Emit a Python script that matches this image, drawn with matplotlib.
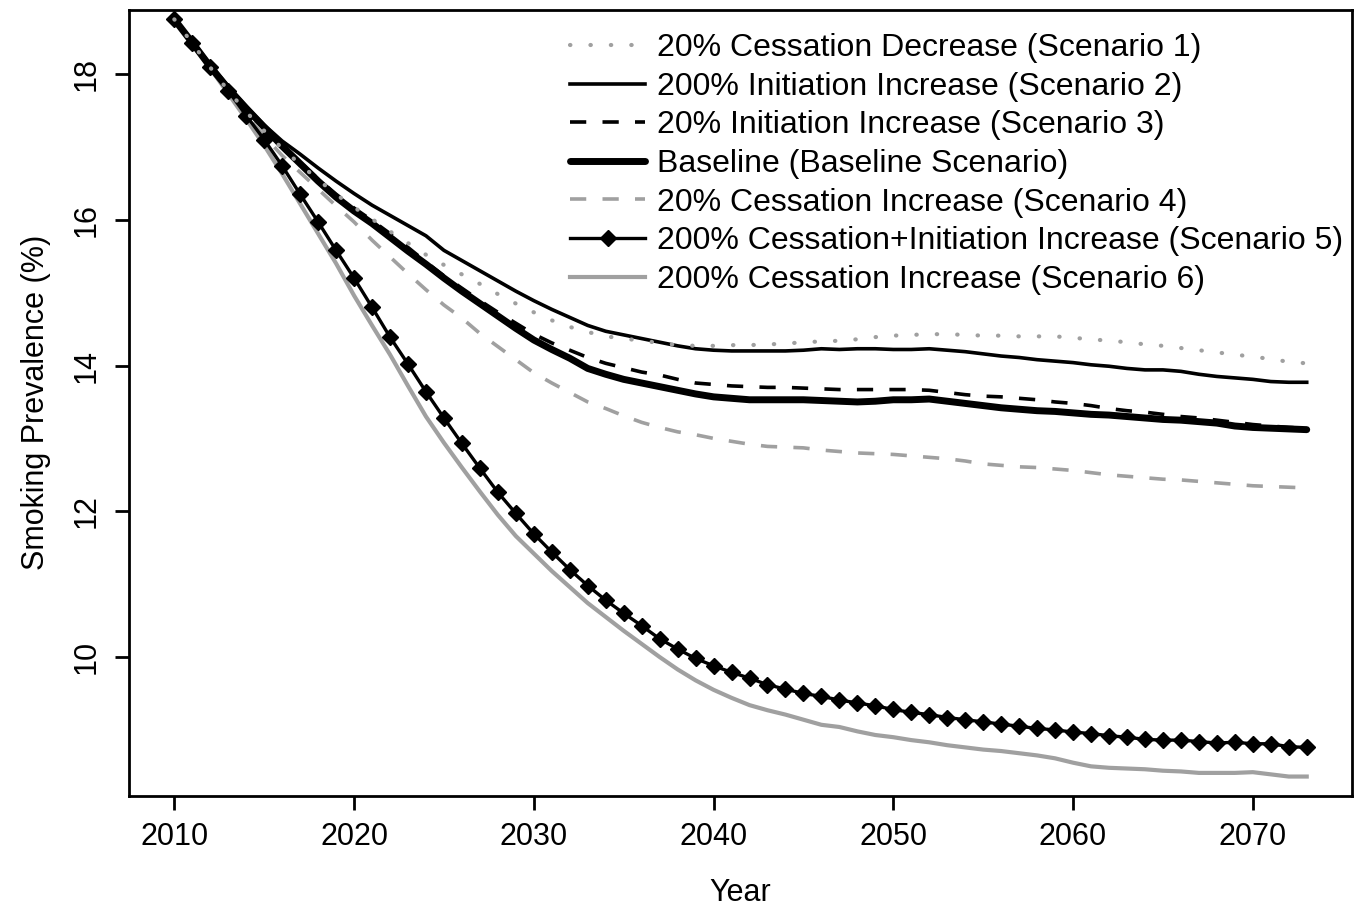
import numpy as np
import matplotlib
matplotlib.use("Agg")
import matplotlib.pyplot as plt

plt.rcParams['font.family'] = ['Liberation Sans', 'DejaVu Sans']

# years 2010..2073
years = list(range(2010, 2074))

# Scenario 1: 20% cessation decrease (gray dotted)
s1 = [18.75, 18.42, 18.09, 17.77, 17.48, 17.22, 16.98, 16.76, 16.55, 16.35,
      16.17, 16.01, 15.84, 15.68, 15.52, 15.38, 15.25, 15.12, 14.98, 14.85,
      14.73, 14.62, 14.53, 14.46, 14.40, 14.37, 14.34, 14.31, 14.28, 14.27,
      14.27, 14.28, 14.28, 14.29, 14.30, 14.32, 14.33, 14.34, 14.36, 14.39,
      14.41, 14.42, 14.43, 14.43, 14.42, 14.41, 14.41, 14.40, 14.40, 14.40,
      14.38, 14.36, 14.34, 14.32, 14.29, 14.27, 14.24, 14.21, 14.18, 14.15,
      14.12, 14.09, 14.05, 14.03]

# Scenario 2: 200% initiation increase (black thin)
s2 = [18.75, 18.45, 18.13, 17.83, 17.55, 17.30, 17.08, 16.90, 16.71, 16.53,
      16.36, 16.20, 16.06, 15.92, 15.78, 15.58, 15.44, 15.30, 15.16, 15.02,
      14.89, 14.77, 14.66, 14.55, 14.47, 14.42, 14.37, 14.32, 14.27, 14.23,
      14.21, 14.20, 14.20, 14.20, 14.20, 14.21, 14.23, 14.22, 14.23, 14.23,
      14.22, 14.22, 14.23, 14.21, 14.19, 14.16, 14.13, 14.11, 14.08, 14.06,
      14.04, 14.01, 13.99, 13.96, 13.94, 13.94, 13.92, 13.88, 13.85, 13.83,
      13.81, 13.78, 13.77, 13.77]

# Scenario 3: 20% initiation increase (black dashed)
s3 = [18.75, 18.43, 18.11, 17.81, 17.54, 17.28, 17.03, 16.79, 16.56, 16.35,
      16.16, 15.99, 15.81, 15.62, 15.42, 15.23, 15.06, 14.89, 14.73, 14.58,
      14.43, 14.31, 14.21, 14.11, 14.03, 13.97, 13.91, 13.87, 13.81, 13.76,
      13.74, 13.72, 13.71, 13.70, 13.70, 13.69, 13.68, 13.67, 13.67, 13.67,
      13.67, 13.67, 13.66, 13.63, 13.60, 13.58, 13.57, 13.55, 13.53, 13.50,
      13.48, 13.45, 13.41, 13.38, 13.36, 13.33, 13.30, 13.28, 13.25, 13.22,
      13.19, 13.17, 13.15, 13.14]

# Baseline (black thick)
base = [18.75, 18.43, 18.10, 17.80, 17.53, 17.27, 17.01, 16.77, 16.53, 16.31,
        16.12, 15.95, 15.76, 15.57, 15.39, 15.20, 15.02, 14.85, 14.68, 14.51,
        14.35, 14.22, 14.10, 13.96, 13.88, 13.81, 13.76, 13.71, 13.66, 13.61,
        13.57, 13.55, 13.53, 13.53, 13.53, 13.53, 13.52, 13.51, 13.50, 13.51,
        13.53, 13.53, 13.54, 13.51, 13.48, 13.45, 13.42, 13.40, 13.38, 13.37,
        13.35, 13.33, 13.32, 13.30, 13.28, 13.26, 13.25, 13.23, 13.21, 13.17,
        13.15, 13.14, 13.13, 13.12]

# Scenario 4: 20% cessation increase (gray dashed)
s4 = [18.75, 18.41, 18.07, 17.74, 17.43, 17.15, 16.88, 16.65, 16.42, 16.19,
      15.97, 15.72, 15.49, 15.26, 15.04, 14.83, 14.65, 14.44, 14.26, 14.08,
      13.90, 13.76, 13.63, 13.50, 13.41, 13.31, 13.22, 13.15, 13.09, 13.05,
      13.00, 12.96, 12.92, 12.89, 12.88, 12.87, 12.84, 12.82, 12.80, 12.79,
      12.78, 12.76, 12.74, 12.72, 12.69, 12.65, 12.63, 12.61, 12.60, 12.58,
      12.56, 12.53, 12.50, 12.48, 12.46, 12.44, 12.43, 12.41, 12.39, 12.37,
      12.35, 12.34, 12.33, 12.32]

# Scenario 5: 200% cessation+initiation increase (black with diamonds)
s5 = [18.75, 18.43, 18.10, 17.77, 17.43, 17.10, 16.74, 16.35, 15.97, 15.58,
      15.20, 14.80, 14.39, 14.02, 13.64, 13.28, 12.93, 12.59, 12.26, 11.97,
      11.69, 11.44, 11.20, 10.98, 10.78, 10.60, 10.43, 10.25, 10.11, 9.98,
      9.88, 9.79, 9.71, 9.62, 9.56, 9.50, 9.46, 9.41, 9.37, 9.33,
      9.28, 9.24, 9.21, 9.17, 9.14, 9.11, 9.08, 9.05, 9.02, 9.00,
      8.97, 8.95, 8.92, 8.90, 8.87, 8.86, 8.86, 8.84, 8.82, 8.83,
      8.81, 8.81, 8.77, 8.76]

# Scenario 6: 200% cessation increase (gray solid)
s6 = [18.75, 18.42, 18.08, 17.73, 17.38, 17.02, 16.63, 16.22, 15.81, 15.40,
      14.96, 14.55, 14.15, 13.72, 13.30, 12.94, 12.60, 12.27, 11.95, 11.66,
      11.42, 11.18, 10.96, 10.74, 10.55, 10.36, 10.18, 10.00, 9.83, 9.68,
      9.55, 9.44, 9.34, 9.27, 9.21, 9.14, 9.07, 9.04, 8.98, 8.93,
      8.90, 8.86, 8.83, 8.79, 8.76, 8.73, 8.71, 8.68, 8.65, 8.61,
      8.55, 8.50, 8.48, 8.47, 8.46, 8.44, 8.43, 8.41, 8.41, 8.41,
      8.42, 8.39, 8.36, 8.36]

labels = ['20% Cessation Decrease (Scenario 1)',
          '200% Initiation Increase (Scenario 2)',
          '20% Initiation Increase (Scenario 3)',
          'Baseline (Baseline Scenario)',
          '20% Cessation Increase (Scenario 4)',
          '200% Cessation+Initiation Increase (Scenario 5)',
          '200% Cessation Increase (Scenario 6)']

gray = '#a0a0a0'
dot = (0, (0.1, 4.8))
dash = (0, (4.5, 4.5))

fig = plt.figure(figsize=(13.61, 9.14), dpi=100)
ax = fig.add_axes([0.0948, 0.1291, 0.8986, 0.8605])

ax.plot(years, s6, color=gray, lw=3.0, zorder=2)
ax.plot(years, s5, color='black', lw=2.4, marker='D', ms=8, zorder=3)
ax.plot(years, s4, color=gray, lw=2.6, linestyle=dash, zorder=2)
ax.plot(years, base, color='black', lw=5.0, solid_capstyle='round', zorder=3)
ax.plot(years, s3, color='black', lw=2.6, linestyle=dash, zorder=4)
ax.plot(years, s2, color='black', lw=2.6, zorder=4)
ax.plot(years, s1, color=gray, lw=3.0, linestyle=dot,
        dash_capstyle='round', zorder=5)

# legend handles in order
h1, = ax.plot([], [], color=gray, lw=3.0, linestyle=dot, dash_capstyle='round')
h2, = ax.plot([], [], color='black', lw=2.6)
h3, = ax.plot([], [], color='black', lw=2.6, linestyle=dash)
h4, = ax.plot([], [], color='black', lw=5.0, solid_capstyle='round')
h5, = ax.plot([], [], color=gray, lw=2.6, linestyle=dash)
h6, = ax.plot([], [], color='black', lw=2.4, marker='D', ms=8)
h7, = ax.plot([], [], color=gray, lw=3.0)

ax.legend([h1, h2, h3, h4, h5, h6, h7], labels, loc='upper left',
          bbox_to_anchor=(0.3606, 0.970), frameon=False, fontsize=23,
          handlelength=2.35, handletextpad=0.38, labelspacing=0.27,
          borderpad=0, borderaxespad=0)

ax.set_xlim(2007.48, 2075.52)
ax.set_ylim(8.093, 18.885)
ax.set_xticks([2010, 2020, 2030, 2040, 2050, 2060, 2070])
ax.set_yticks([10, 12, 14, 16, 18])

for s in ax.spines.values():
    s.set_linewidth(2.0)
ax.tick_params(axis='both', length=10, width=2.0, labelsize=22, direction='out')
ax.tick_params(axis='x', pad=9)
ax.tick_params(axis='y', pad=10)
for t in ax.get_yticklabels():
    t.set_rotation(90)
    t.set_va('center')

fig.text(0.5 * (0.0948 + 0.9934), 1 - 893 / 914, 'Year', fontsize=22,
         ha='center', va='center')
fig.text(36 / 1361, 0.5 * (0.1291 + 0.9896), 'Smoking Prevalence (%)', fontsize=22,
         rotation=90, ha='center', va='center')

fig.savefig('out.png', dpi=100)
